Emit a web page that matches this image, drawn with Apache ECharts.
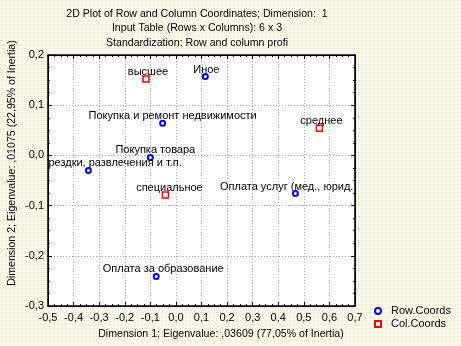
<!DOCTYPE html>
<html>
<head>
<meta charset="utf-8">
<script src="https://cdn.jsdelivr.net/npm/echarts@6/dist/echarts.min.js"></script>
<style>
  html, body { margin: 0; padding: 0; }
  #chart { width: 461px; height: 346px; }
</style>
</head>
<body>
<div id="chart"></div>
<script>
// Row coordinates (categories of the row variable)
const rowNames = [
  'Иное',
  'Покупка и ремонт недвижимости',
  'Покупка товара',
  'рездки, развлечения и т.п.',
  'Оплата услуг (мед., юрид.',
  'Оплата за образование'
];
const rowX = [0.115, -0.052, -0.100, -0.342, 0.467, -0.077];
const rowY = [0.157, 0.064, -0.004, -0.030, -0.076, -0.241];

// Column coordinates
const colNames = ['высшее', 'среднее', 'специальное'];
const colX = [-0.117, 0.561, -0.041];
const colY = [0.152, 0.054, -0.079];

// Axis ranges and tick step
const xRange = [-0.5, 0.7];
const yRange = [-0.3, 0.2];
const tickStep = 0.1;

const titleLines = [
  '2D Plot of Row and Column Coordinates; Dimension:  1',
  'Input Table (Rows x Columns): 6 x 3',
  'Standardization: Row and column profi'
];
const xTitle = 'Dimension 1; Eigenvalue: ,03609 (77,05% of Inertia)';
const yTitle = 'Dimension 2; Eigenvalue: ,01075 (22,95% of Inertia)';

const FONT = 'Arial, "Liberation Sans", sans-serif';
const TITLE_FONT = '10.6px ' + FONT;

// dotted pale background texture
function makePattern() {
  const c = document.createElement('canvas');
  c.width = 4; c.height = 4;
  const g = c.getContext('2d');
  g.fillStyle = '#fdfcf1';
  g.fillRect(0, 0, 4, 4);
  g.fillStyle = '#efe6bd';
  g.fillRect(0, 0, 1, 1);
  g.fillRect(2, 2, 1, 1);
  g.fillStyle = '#f3dfd6';
  g.fillRect(2, 0, 1, 1);
  return c;
}

const fmt = v => (Math.abs(v) < 1e-9 ? 0 : v).toFixed(1).replace('.', ',');

// labels that run into the frame are pushed back inside it
const labelTweaks = {
  'рездки, развлечения и т.п.': { align: 'left', offset: [-40, 3] },
  'Оплата услуг (мед., юрид.': { align: 'right', offset: [58, 3] }
};

function buildData(names, xs, ys) {
  return names.map((n, i) => {
    const item = { name: n, value: [xs[i], ys[i]] };
    // text sits a little right of centre, more so for longer names
    item.label = labelTweaks[n] || { offset: [Math.round(n.length * 0.35), 3] };
    return item;
  });
}

const chart = echarts.init(document.getElementById('chart'), null, { renderer: 'canvas' });

const gridBox = { left: 48, top: 55, right: 106, bottom: 40 };

const tickCommon = {
  axisLine: { show: true, onZero: false, lineStyle: { color: '#000', width: 1 } },
  axisTick: { show: true, inside: true, length: 4, lineStyle: { color: '#000' } },
  minorTick: { show: true, splitNumber: 4, length: 2, lineStyle: { color: '#000' } }
};

const labelStyle = {
  show: true,
  position: 'top',
  distance: 1,
  formatter: p => p.name,
  color: '#000',
  fontFamily: FONT,
  fontSize: 11
};

const option = {
  backgroundColor: { image: makePattern(), repeat: 'repeat' },
  animation: false,
  grid: Object.assign({ show: true, backgroundColor: '#ffffff', borderColor: '#000', borderWidth: 1.5 }, gridBox),
  xAxis: [
    Object.assign({
      type: 'value', position: 'bottom', min: xRange[0], max: xRange[1], interval: tickStep,
      axisLabel: { formatter: fmt, color: '#000', fontFamily: FONT, fontSize: 11, margin: 6 },
      splitLine: { show: true, lineStyle: { color: '#a8a8a8', type: [1, 2], width: 1 } }
    }, tickCommon),
    Object.assign({
      type: 'value', position: 'top', min: xRange[0], max: xRange[1], interval: tickStep,
      axisLabel: { show: false }, splitLine: { show: false }
    }, tickCommon)
  ],
  yAxis: [
    Object.assign({
      type: 'value', position: 'left', min: yRange[0], max: yRange[1], interval: tickStep,
      axisLabel: { formatter: fmt, color: '#000', fontFamily: FONT, fontSize: 11, margin: 4 },
      splitLine: { show: true, lineStyle: { color: '#a8a8a8', type: [1, 2], width: 1 } }
    }, tickCommon),
    Object.assign({
      type: 'value', position: 'right', min: yRange[0], max: yRange[1], interval: tickStep,
      axisLabel: { show: false }, splitLine: { show: false }
    }, tickCommon)
  ],
  legend: {
    orient: 'vertical',
    left: 374, top: 304.5,
    padding: 0,
    itemWidth: 6, itemHeight: 6, itemGap: 0,
    textStyle: { color: '#000', fontFamily: FONT, fontSize: 11, padding: [0, 0, 0, 5], lineHeight: 13 },
    data: ['Row.Coords', 'Col.Coords']
  },
  series: [
    {
      name: 'Row.Coords', type: 'scatter', symbol: 'circle', symbolSize: 5,
      itemStyle: { color: '#ffffff', borderColor: '#0000ff', borderWidth: 2, opacity: 1 },
      label: labelStyle,
      data: buildData(rowNames, rowX, rowY),
      z: 3
    },
    {
      name: 'Col.Coords', type: 'scatter', symbol: 'rect', symbolSize: 6,
      itemStyle: { color: '#ffffff', borderColor: '#ff0000', borderWidth: 1.5, opacity: 1 },
      label: labelStyle,
      data: buildData(colNames, colX, colY),
      z: 3
    }
  ],
  graphic: [
    ...titleLines.map((t, i) => ({
      type: 'text', x: 197, y: 14 + i * 14.5,
      style: { text: t, fill: '#000', font: TITLE_FONT, textAlign: 'center', textVerticalAlign: 'middle' }
    })),
    {
      type: 'text', x: 221, y: 334,
      style: { text: xTitle, fill: '#000', font: TITLE_FONT, textAlign: 'center', textVerticalAlign: 'middle' }
    },
    {
      type: 'text', x: 12, y: 163, rotation: Math.PI / 2,
      style: { text: yTitle, fill: '#000', font: TITLE_FONT, textAlign: 'center', textVerticalAlign: 'middle' }
    }
  ]
};

chart.setOption(option);
</script>
</body>
</html>
